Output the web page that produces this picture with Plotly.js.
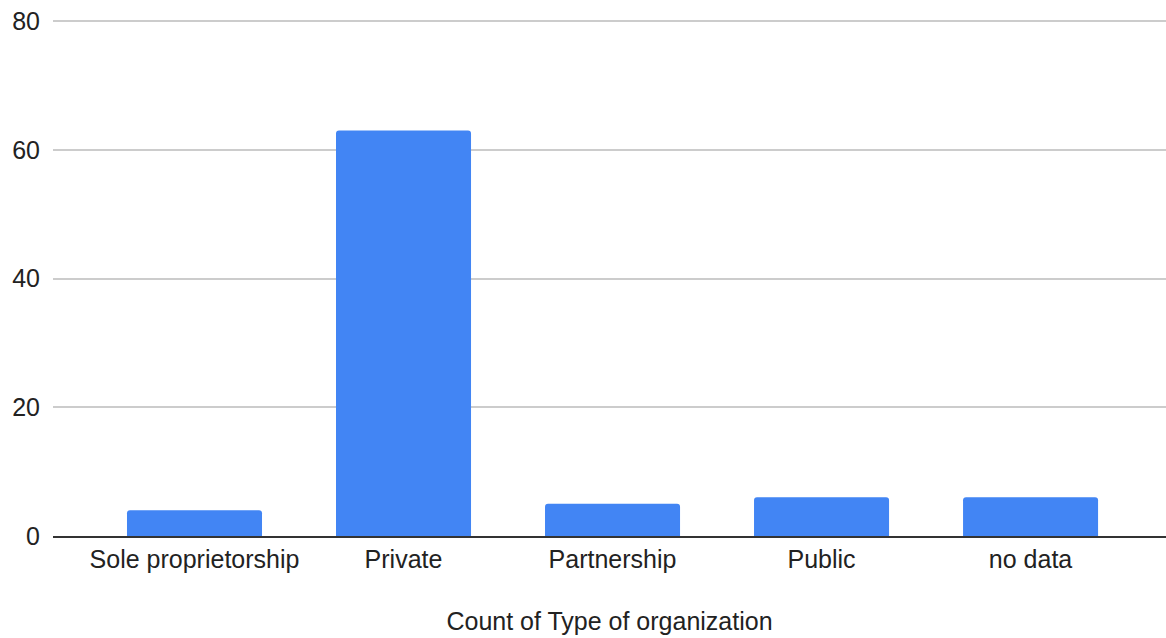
<!DOCTYPE html>
<html>
<head>
<meta charset="utf-8">
<script src="https://cdn.plot.ly/plotly-3.0.1.min.js"></script>
<style>
  html, body { margin: 0; padding: 0; background: #ffffff; }
  #chart { width: 1166px; height: 638px; }
</style>
</head>
<body>
<div id="chart"></div>
<script>
// Organization types and how many records fall in each
const categories = ["Sole proprietorship", "Private", "Partnership", "Public", "no data"];
const counts = [4, 63, 5, 6, 6];
const yTickValues = [0, 20, 40, 60, 80];

const FONT = "'Liberation Sans', Arial, Helvetica, sans-serif";
const SIZE = 25;

const trace = {
  type: "bar",
  x: categories,
  y: counts,
  marker: { color: "#4285f4", cornerradius: 3 },
  hoverinfo: "x+y"
};

const layout = {
  width: 1166,
  height: 638,
  margin: { l: 53, r: 0, t: 18, b: 102 },
  paper_bgcolor: "#ffffff",
  plot_bgcolor: "#ffffff",
  font: { family: FONT, size: SIZE, color: "#222222" },
  showlegend: false,
  bargap: 0.354,
  xaxis: {
    type: "category",
    range: [-0.677, 4.648],
    showgrid: false,
    showline: true,
    linecolor: "#333333",
    linewidth: 2,
    ticks: "",
    ticklabelstandoff: 0,
    tickfont: { family: FONT, size: SIZE, color: "#222222" },
    title: {
      text: "Count of Type of organization",
      font: { family: FONT, size: SIZE, color: "#222222" },
      standoff: 40
    },
    fixedrange: true
  },
  yaxis: {
    // a little headroom so the gridline at 80 is drawn inside the plot
    range: [0, 80.466],
    tickvals: yTickValues,
    ticktext: yTickValues.map(String),
    showgrid: true,
    gridcolor: "#cccccc",
    gridwidth: 1.5,
    zeroline: false,
    showline: false,
    ticks: "",
    ticklabelstandoff: 12,
    tickfont: { family: FONT, size: SIZE, color: "#222222" },
    fixedrange: true
  }
};

Plotly.newPlot("chart", [trace], layout, { displayModeBar: false });
</script>
</body>
</html>
